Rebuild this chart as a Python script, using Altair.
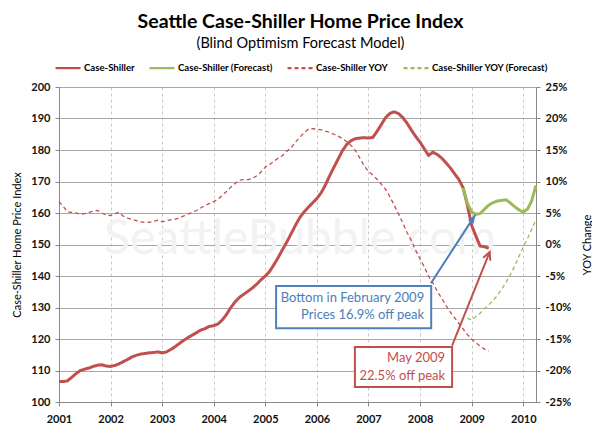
import altair as alt
import pandas as pd

FONT = "Lato"

# ---------------- data ----------------
cs_start = "2001-01-01"
cs_values = [
    106.5, 106.5, 106.7, 107.8, 109.0, 110.0, 110.4, 110.8, 111.3, 111.7, 111.8, 111.4,  # 2001
    111.3, 111.6, 112.1, 112.8, 113.5, 114.3, 114.8, 115.2, 115.4, 115.6, 115.7, 115.9,  # 2002
    115.6, 115.9, 116.6, 117.5, 118.5, 119.5, 120.4, 121.2, 122.0, 122.8, 123.3, 124.0,  # 2003
    124.2, 124.8, 126.0, 127.8, 130.0, 131.8, 133.2, 134.2, 135.2, 136.2, 137.4, 138.8,  # 2004
    140.0, 141.5, 143.5, 145.8, 148.3, 150.7, 153.3, 156.0, 158.5, 160.3, 161.8, 163.2,  # 2005
    164.6, 166.5, 168.8, 171.8, 174.5, 177.2, 179.8, 181.8, 183.0, 183.6, 183.8, 183.9,  # 2006
    183.8, 184.0, 185.8, 188.0, 190.2, 191.6, 192.1, 191.6, 190.3, 188.5, 186.3, 184.3,  # 2007
    182.5, 180.3, 178.3, 179.3, 178.6, 177.5, 176.0, 174.4, 172.5, 170.7, 168.0, 162.5,  # 2008
    156.0, 152.5, 149.5, 149.3, 148.8,                                                   # 2009
]
fc_start = "2008-11-01"
fc_values = [168.0, 163.2, 160.3, 159.6, 159.8, 161.2, 162.5, 163.3, 163.8, 164.0,
             164.2, 163.2, 162.0, 161.0, 160.3, 161.3, 163.8, 168.8]

yoy_start = "2001-01-01"
yoy_values = [
    6.8, 6.0, 5.2, 5.1, 5.0, 4.8, 4.9, 5.1, 5.3, 5.4, 5.0, 4.7,                # 2001
    4.6, 4.9, 5.1, 4.5, 4.2, 4.0, 3.8, 3.6, 3.5, 3.5, 3.7, 3.85,               # 2002
    3.6, 3.8, 3.9, 4.0, 4.2, 4.5, 4.8, 5.1, 5.4, 5.8, 6.2, 6.5,                # 2003
    6.8, 7.2, 7.8, 8.4, 9.1, 9.7, 10.2, 10.3, 10.3, 10.5, 10.9, 11.5,          # 2004
    12.3, 12.7, 13.2, 13.7, 14.1, 14.8, 15.3, 16.2, 17.0, 17.7, 18.3, 18.4,    # 2005
    18.3, 18.2, 18.0, 17.8, 17.5, 17.2, 16.8, 16.3, 15.7, 14.9, 13.7, 12.5,    # 2006
    11.6, 11.0, 10.4, 9.6, 8.8, 7.6, 6.3, 4.9, 3.4, 1.9, 0.6, -0.9,            # 2007
    -2.3, -3.6, -5.0, -6.1, -7.4, -8.5, -9.6, -10.7, -11.6, -12.5, -13.4, -14.3,  # 2008
    -15.0, -15.6, -16.1, -16.6, -16.9,                                          # 2009
]
yoyf_start = "2008-12-01"
yoyf_values = [-11.7, -12.0, -11.4, -10.9, -10.2, -9.6, -8.9, -8.1, -7.1, -6.0,
               -4.8, -3.4, -1.9, -0.4, 1.0, 2.4, 3.9]

series_names = ["Case-Shiller", "Case-Shiller (Forecast)", "Case-Shiller YOY",
                "Case-Shiller YOY (Forecast)"]
series_colors = ["#c0504d", "#9bbb59", "#c0504d", "#9bbb59"]
series_dashes = [[1, 0], [1, 0], [4, 3], [4, 3]]

x_domain = ["2001-01-01", "2010-04-01"]
year_ticks = list(range(2001, 2011))
left_ticks = list(range(100, 201, 10))
right_ticks = list(range(-25, 26, 5))

watermark_text = ["SeattleBubble.com"]

blue_box = {"x": ["2005-03-18"], "x2": ["2008-03-20"], "y": [136.8], "y2": [123.4]}
blue_text = {"x": ["2008-03-20", "2008-03-20"], "y": [133.0, 127.7],
             "t": ["Bottom in February 2009", "Prices 16.9% off peak"]}
blue_arrow = {"x": ["2008-03-18"], "y": [137.7], "x2": ["2009-01-26"], "y2": [159.4]}

red_box = {"x": ["2006-09-27"], "x2": ["2008-08-15"], "y": [117.5], "y2": [104.8]}
red_text = {"x": ["2008-08-15", "2008-08-15"], "y": [114.0, 108.4],
            "t": ["May 2009", "22.5% off peak"]}
red_arrow = {"x": ["2008-08-15"], "y": [117.9], "x2": ["2009-05-08"], "y2": [147.6]}


def monthly(start, values, name, field):
    return pd.DataFrame({
        "date": pd.date_range(start, periods=len(values), freq="MS").strftime("%Y-%m-%d"),
        field: values,
        "series": name,
    })


left_df = pd.concat([monthly(cs_start, cs_values, series_names[0], "index"),
                     monthly(fc_start, fc_values, series_names[1], "index")])
right_df = pd.concat([monthly(yoy_start, yoy_values, series_names[2], "yoy"),
                      monthly(yoyf_start, yoyf_values, series_names[3], "yoy")])

# ---------------- encodings ----------------
legend = alt.Legend(
    orient="none", legendX=-5, legendY=-33, direction="horizontal", title=None,
    symbolType="stroke", symbolSize=625, symbolStrokeWidth=2.2,
    labelFont=FONT, labelFontSize=9.6, labelFontWeight="bold", labelColor="#000",
    columnPadding=10, labelOffset=2, values=series_names,
)
color_enc = alt.Color("series:N", scale=alt.Scale(domain=series_names, range=series_colors),
                      legend=legend)
dash_enc = alt.StrokeDash("series:N", scale=alt.Scale(domain=series_names, range=series_dashes),
                          legend=legend)

x_axis = alt.Axis(
    title=None, values=[alt.DateTime(year=y, month=1, date=1) for y in year_ticks],
    format="%Y", grid=True, gridDash=[3, 3], gridColor="#c8c8c8",
    domainColor="#888", tickColor="#888", tickSize=4, labelFlush=False,
    labelFont=FONT, labelFontSize=11, labelFontWeight="bold", labelColor="#111",
    labelPadding=7,
)
x_enc = alt.X("date:T", scale=alt.Scale(domain=x_domain), axis=x_axis)

left_axis = alt.Axis(
    title="Case-Shiller Home Price Index", values=left_ticks, grid=True,
    gridColor="#a8a8a8", domainColor="#888", tickColor="#888", tickSize=4,
    labelFont=FONT, labelFontSize=11, labelFontWeight="bold", labelColor="#111",
    labelPadding=5, titleFont=FONT, titleFontSize=11, titleFontWeight="normal",
    titleColor="#000", titlePadding=8, labelOverlap=False,
)
right_axis = alt.Axis(
    orient="right", title="YOY Change", values=right_ticks, grid=False,
    labelExpr="datum.value + '%'", domainColor="#888", tickColor="#888", tickSize=4,
    labelFont=FONT, labelFontSize=11, labelFontWeight="bold", labelColor="#111",
    labelPadding=5, titleFont=FONT, titleFontSize=11, titleFontWeight="normal",
    titleColor="#000", titleAngle=270, titlePadding=22, labelOverlap=False,
)

y_left_scale = alt.Scale(domain=[100, 200])


def y_left(field):
    return alt.Y(field, scale=y_left_scale, axis=left_axis)


watermark = alt.Chart(pd.DataFrame({"t": watermark_text})).mark_text(
    font=FONT, fontSize=48, color="#f2f2f2", align="center", baseline="alphabetic"
).encode(text="t:N", x=alt.value(241), y=alt.value(167))

left_lines = alt.Chart(left_df).mark_line(strokeWidth=3).encode(
    x=x_enc, y=y_left("index:Q"), color=color_enc, strokeDash=dash_enc,
)


def box(spec, stroke):
    return alt.Chart(pd.DataFrame(spec)).mark_rect(
        fill="white", stroke=stroke, strokeWidth=2
    ).encode(x="x:T", x2="x2:T", y=y_left("y:Q"), y2="y2:Q")


def box_text(spec, color):
    return alt.Chart(pd.DataFrame(spec)).mark_text(
        font=FONT, fontSize=13, color=color, align="right", baseline="middle", dx=-7
    ).encode(x="x:T", y=y_left("y:Q"), text="t:N")


def arrow(spec, color):
    return alt.Chart(pd.DataFrame(spec)).mark_rule(
        color=color, strokeWidth=2
    ).encode(x="x:T", x2="x2:T", y=y_left("y:Q"), y2="y2:Q")


def arrow_head(spec, color, angle, filled, shape):
    return alt.Chart(pd.DataFrame(spec)).mark_point(
        shape=shape, angle=angle, size=170, filled=filled, color=color,
        strokeWidth=2, opacity=1
    ).encode(x="x2:T", y=y_left("y2:Q"))


left = alt.layer(
    watermark,
    box(blue_box, "#4f81bd"), box_text(blue_text, "#4a7ebb"),
    box(red_box, "#c0504d"), box_text(red_text, "#c0504d"),
    left_lines,
    arrow(blue_arrow, "#4a7ebb"),
    arrow_head(blue_arrow, "#4a7ebb", 32, True, "M -0.5 1.3 L 0 0 L 0.5 1.3 Z"),
    arrow(red_arrow, "#c0504d"),
    arrow_head(red_arrow, "#c0504d", 22, False, "M -0.6 1.2 L 0 0 L 0.6 1.2"),
)

right = alt.Chart(right_df).mark_line(strokeWidth=1.3).encode(
    x=x_enc,
    y=alt.Y("yoy:Q", scale=alt.Scale(domain=[-25, 25]), axis=right_axis),
    color=color_enc, strokeDash=dash_enc,
)

chart = alt.layer(left, right).resolve_scale(y="independent").properties(
    width=477, height=315,
    autosize=alt.AutoSizeParams(type="none"),
    padding={"left": 51, "top": 79, "right": 56, "bottom": 25},
    title=alt.TitleParams(
        text="Seattle Case-Shiller Home Price Index",
        subtitle="(Blind Optimism Forecast Model)",
        anchor="middle", font=FONT, fontSize=19.5, fontWeight="bold", color="#000",
        subtitleFont=FONT, subtitleFontSize=14.5, subtitleColor="#000",
        subtitlePadding=4, offset=3, dx=3,
    ),
).configure_view(stroke=None).configure(background="white")

chart.save("out.html", embed_options={"renderer": "svg", "actions": False})
